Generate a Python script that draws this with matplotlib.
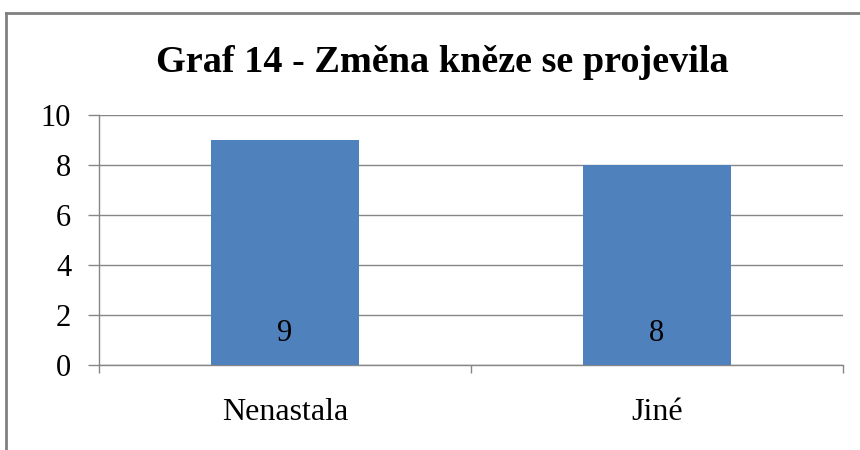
import numpy as np
import matplotlib.pyplot as plt
from matplotlib.lines import Line2D

# data
categories = ["Nenastala", "Jiné"]
values = [9, 8]
y_ticks = [0, 2, 4, 6, 8, 10]
title = "Graf 14 - Změna kněze se projevila"

plt.rcParams["font.family"] = ["Liberation Serif", "DejaVu Serif"]

bar_color = "#4F81BD"
grid_color = "#868686"

fig = plt.figure(figsize=(8.6, 4.5), dpi=100)
ax = fig.add_axes([99 / 860, 1 - 365 / 450, (843 - 99) / 860, (365 - 115) / 450])

x = np.arange(len(categories))
bars = ax.bar(x, values, width=0.4, color=bar_color, zorder=3)

ax.set_xlim(-0.5, len(categories) - 0.5)
ax.set_ylim(0, 10)
ax.set_yticks(y_ticks)
ax.set_yticklabels([str(t) for t in y_ticks], fontsize=22)
ax.yaxis.grid(True, color=grid_color, linewidth=1)
ax.set_axisbelow(True)

# category labels, ticks at category boundaries
ax.set_xticks(x)
ax.set_xticklabels(categories, fontsize=23)
ax.tick_params(axis="x", which="major", length=0, pad=24)
ax.set_xticks(np.arange(len(categories) + 1) - 0.5, minor=True)
ax.tick_params(axis="x", which="minor", length=6, color=grid_color, width=1)
ax.tick_params(axis="y", length=8, color=grid_color, width=1, pad=12)

for side in ["top", "right"]:
    ax.spines[side].set_visible(False)
for side in ["left", "bottom"]:
    ax.spines[side].set_color(grid_color)
    ax.spines[side].set_linewidth(1)

# value labels near bar bottoms
for xi, v in zip(x, values):
    ax.text(xi, 1.25, str(v), ha="center", va="center", fontsize=22, zorder=4)

fig.text(442 / 860, 1 - 62 / 450, title, ha="center", va="center",
         fontsize=27.5, fontweight="bold")

# outer border of the chart box
fig.add_artist(Line2D([6 / 860, 6 / 860], [0, 1 - 13 / 450],
                      transform=fig.transFigure, color="#808080", linewidth=2))
fig.add_artist(Line2D([6 / 860, 1], [1 - 13 / 450, 1 - 13 / 450],
                      transform=fig.transFigure, color="#808080", linewidth=2))

fig.savefig("out.png", dpi=100)
